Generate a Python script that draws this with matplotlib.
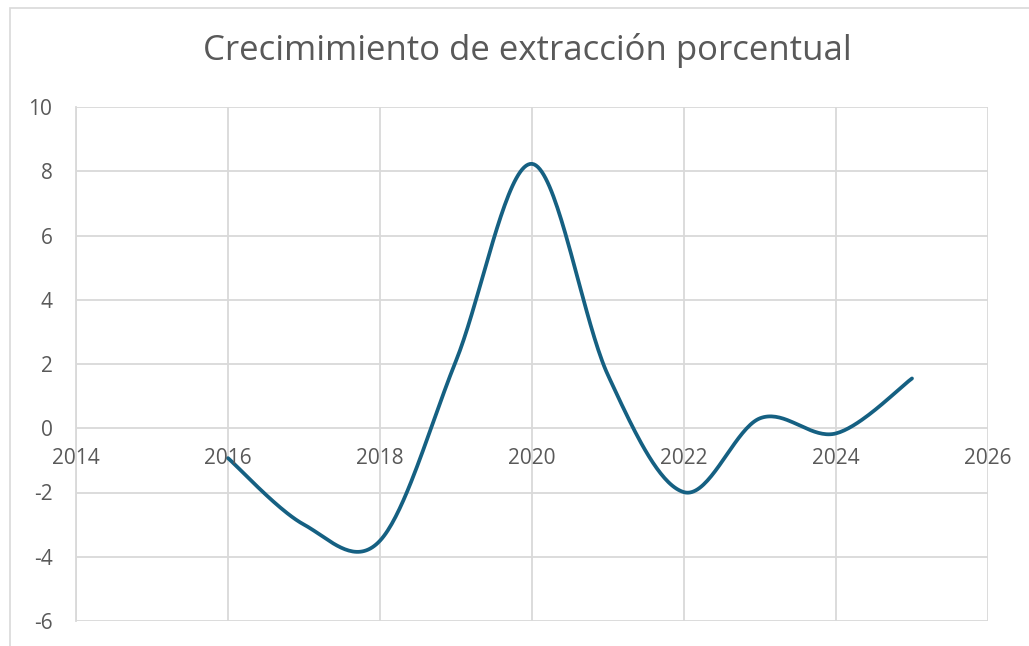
import numpy as np
import matplotlib
matplotlib.use("Agg")
import matplotlib.pyplot as plt
from matplotlib.patches import Rectangle

years = [2016, 2017, 2018, 2019, 2020, 2021, 2022, 2023, 2024, 2025]
growth = [-0.93, -3.0, -3.5, 2.1, 8.23, 1.65, -1.99, 0.31, -0.16, 1.55]
x_ticks = [2014, 2016, 2018, 2020, 2022, 2024, 2026]
y_ticks = [-6, -4, -2, 0, 2, 4, 6, 8, 10]
title = "Crecimimiento de extracción porcentual"

LINE = "#156082"
GRID = "#D9D9D9"
TXT = "#595959"

def smooth(xs, ys, n=40):
    # Excel-like smoothing: cubic Bezier with Catmull-Rom control points
    P = np.column_stack([xs, ys]).astype(float)
    P = np.vstack([P[0], P, P[-1]])
    out = []
    t = np.linspace(0, 1, n)[:, None]
    for i in range(1, len(P) - 2):
        p0, p1, p2, p3 = P[i - 1], P[i], P[i + 1], P[i + 2]
        c1 = p1 + (p2 - p0) / 6
        c2 = p2 - (p3 - p1) / 6
        seg = ((1 - t) ** 3) * p1 + 3 * ((1 - t) ** 2) * t * c1 + 3 * (1 - t) * t ** 2 * c2 + t ** 3 * p2
        out.append(seg if i == 1 else seg[1:])
    s = np.vstack(out)
    return s[:, 0], s[:, 1]

plt.rcParams['font.family'] = ['Open Sans', 'DejaVu Sans']
plt.rcParams['axes.unicode_minus'] = False

W, H = 1029, 646
fig = plt.figure(figsize=(W / 100, H / 100), dpi=100)
fig.patch.set_facecolor("white")

# chart border
fig.patches.append(Rectangle((10 / W, -0.1), 1.2, (H - 8) / H + 0.1, transform=fig.transFigure,
                             fill=False, edgecolor=GRID, linewidth=1.2))

left, right, top, bottom = 76, 988, 107, 621
ax = fig.add_axes([left / W, 1 - bottom / H, (right - left) / W, (bottom - top) / H])
ax.set_xlim(2014, 2026)
ax.set_ylim(-6, 10)
ax.set_xticks(x_ticks)
ax.set_yticks(y_ticks)
ax.grid(True, color=GRID, linewidth=1.3)
ax.set_axisbelow(True)
for s in ["top", "right", "bottom"]:
    ax.spines[s].set_visible(False)
ax.spines["left"].set_color(GRID)
ax.spines["left"].set_linewidth(1.3)
ax.tick_params(length=0)
ax.tick_params(axis="y", labelsize=15, labelcolor=TXT, pad=17)
ax.set_xticklabels([])

for xv in x_ticks:
    ax.annotate(str(xv), (xv, 0), xytext=(0, -22), textcoords="offset points",
                ha="center", va="center", fontsize=15, color=TXT)

sx, sy = smooth(years, growth)
ax.plot(sx, sy, color=LINE, linewidth=2.7, solid_capstyle="round")

fig.text(527 / W, 1 - 50 / H, title, ha="center", va="center", fontsize=25, color=TXT)

fig.savefig("out.png", dpi=100)
